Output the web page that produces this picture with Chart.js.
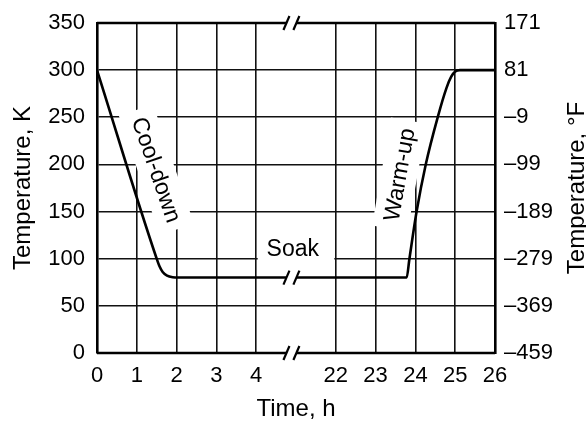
<!DOCTYPE html>
<html><head><meta charset="utf-8">
<script src="https://cdn.jsdelivr.net/npm/chart.js@4.4.1/dist/chart.umd.min.js"></script>
<style>html,body{margin:0;padding:0;background:#fff}canvas{display:block}</style>
</head><body>
<canvas id="c" width="586" height="421"></canvas>
<script>
// ---- data (time in hours, temperature in K) ----
const timeHours = [0, 1.5, 1.57, 1.65, 1.76, 1.9, 2.05, 23.78, 23.85, 24.03, 24.26, 24.56, 24.78, 24.9, 25.0, 25.12, 26];
const tempK     = [300, 100, 92, 86, 82, 80.3, 80, 80, 100, 150, 200, 250, 281, 293, 298.5, 300, 300];
const xTickHours = [0, 1, 2, 3, 4, 22, 23, 24, 25, 26];
const kTicks = [0, 50, 100, 150, 200, 250, 300, 350];
const fTicks = [-459, -369, -279, -189, -99, -9, 81, 171];
const phaseLabels = ['Cool-down', 'Soak', 'Warm-up'];

// broken time axis: 4 h ... 22 h compressed into 2 units
function toAxis(t) { return t <= 4 ? t : t - 16; }
function fromAxis(v) { return v <= 4 ? v : v + 16; }

const FONT = 'Liberation Sans, Arial, Helvetica, sans-serif';
const INK = '#000';
// [label, axis x, K, rotation deg]
const rotLabels = [[phaseLabels[0], 1.47, 194, 71], [phaseLabels[2], 7.62, 189, -80]];

const breakPlugin = {
  id: 'breaks',
  beforeDatasetsDraw(chart) {
    const {ctx} = chart;
    const xs = chart.scales.x, ys = chart.scales.y;
    ctx.save();
    ctx.fillStyle = '#fff';
    ctx.fillRect(xs.getPixelForValue(4) + 1.5, ys.getPixelForValue(118), xs.getPixelForValue(6) - xs.getPixelForValue(4) - 3, 28);
    ctx.font = '23px ' + FONT;
    rotLabels.forEach(([t, xv, yv, a]) => {
      const w = ctx.measureText(t).width;
      ctx.save();
      ctx.translate(xs.getPixelForValue(xv), ys.getPixelForValue(yv));
      ctx.rotate(a * Math.PI / 180);
      ctx.fillRect(-w / 2 - 8, -19, w + 16, 36);
      ctx.restore();
    });
    ctx.restore();
  },
  afterDatasetsDraw(chart) {
    const {ctx} = chart;
    const xs = chart.scales.x, ys = chart.scales.y;
    const xL = xs.getPixelForValue(0), xR = xs.getPixelForValue(10);
    const b1 = xs.getPixelForValue(4.76), b2 = xs.getPixelForValue(5.01);
    const yTop = ys.getPixelForValue(350), yBot = ys.getPixelForValue(0), ySoak = ys.getPixelForValue(80);
    ctx.save();
    ctx.fillStyle = '#fff';
    ctx.fillRect(b1, ySoak - 3, b2 - b1, 6);
    ctx.strokeStyle = INK;
    ctx.lineCap = 'butt';
    ctx.lineWidth = 2.6;
    [yTop, yBot].forEach(y => {
      ctx.beginPath();
      ctx.moveTo(xL, y); ctx.lineTo(b1, y);
      ctx.moveTo(b2, y); ctx.lineTo(xR, y);
      ctx.stroke();
    });
    ctx.lineWidth = 2.2;
    [yTop, yBot, ySoak].forEach(y => {
      [b1, b2].forEach(x => {
        ctx.beginPath();
        ctx.moveTo(x - 3, y + 7);
        ctx.lineTo(x + 3, y - 7);
        ctx.stroke();
      });
    });
    ctx.fillStyle = INK;
    ctx.font = '23px ' + FONT;
    ctx.textAlign = 'center';
    ctx.textBaseline = 'middle';
    ctx.fillText(phaseLabels[1], xs.getPixelForValue(4.92), ys.getPixelForValue(110));
    rotLabels.forEach(([t, xv, yv, a]) => {
      ctx.save();
      ctx.translate(xs.getPixelForValue(xv), ys.getPixelForValue(yv));
      ctx.rotate(a * Math.PI / 180);
      ctx.fillText(t, 0, 0);
      ctx.restore();
    });
    ctx.font = '24px ' + FONT;
    ctx.save();
    ctx.translate(577, (ys.top + ys.bottom) / 2);
    ctx.rotate(-Math.PI / 2);
    ctx.fillText('Temperature, °F', 0, 0);
    ctx.restore();
    ctx.restore();
  }
};

new Chart(document.getElementById('c'), {
  type: 'line',
  data: {
    datasets: [{
      data: timeHours.map((t, i) => ({x: toAxis(t), y: tempK[i]})),
      borderColor: INK,
      borderWidth: 2.6,
      pointRadius: 0,
      cubicInterpolationMode: 'monotone',
      yAxisID: 'y'
    }]
  },
  options: {
    responsive: false,
    animation: false,
    layout: {padding: {top: 15, left: 0, right: 0, bottom: 0}},
    plugins: {legend: {display: false}, tooltip: {enabled: false}},
    scales: {
      x: {
        type: 'linear', min: 0, max: 10,
        afterBuildTicks: s => { s.ticks = xTickHours.map(h => ({value: toAxis(h)})); },
        afterFit: s => { s.height = 68; },
        ticks: {
          autoSkip: false, maxRotation: 0, padding: 12, color: INK,
          font: {family: FONT, size: 22, lineHeight: 1},
          callback: v => String(fromAxis(v))
        },
        grid: {color: '#111', lineWidth: 1.6, drawTicks: false},
        border: {display: false},
        title: {display: true, text: 'Time, h', color: INK, font: {family: FONT, size: 24, lineHeight: 1}, padding: {top: 0, bottom: 0}}
      },
      y: {
        position: 'left', min: 0, max: 350,
        afterBuildTicks: s => { s.ticks = kTicks.map(v => ({value: v})); },
        afterFit: s => { s.width = 97; },
        ticks: {padding: 12, color: INK, font: {family: FONT, size: 22, lineHeight: 1}},
        grid: {
          color: c => (c.tick && (c.tick.value === 0 || c.tick.value === 350)) ? 'rgba(0,0,0,0)' : '#111',
          lineWidth: 1.6, drawTicks: false
        },
        border: {color: INK, width: 2.6},
        title: {display: true, text: 'Temperature, K', color: INK, font: {family: FONT, size: 24, lineHeight: 1}, padding: {top: 11.5, bottom: 0}}
      },
      y1: {
        position: 'right', display: true, min: -459, max: 171,
        afterBuildTicks: s => { s.ticks = fTicks.map(v => ({value: v})); },
        afterFit: s => { s.width = 91; },
        ticks: {padding: 9, color: INK, font: {family: FONT, size: 22, lineHeight: 1},
          callback: v => (v < 0 ? '\u2013' + Math.abs(v) : String(v))},
        grid: {display: false, drawTicks: false},
        border: {color: INK, width: 2.6}
      }
    }
  },
  plugins: [breakPlugin]
});
</script>
</body></html>
